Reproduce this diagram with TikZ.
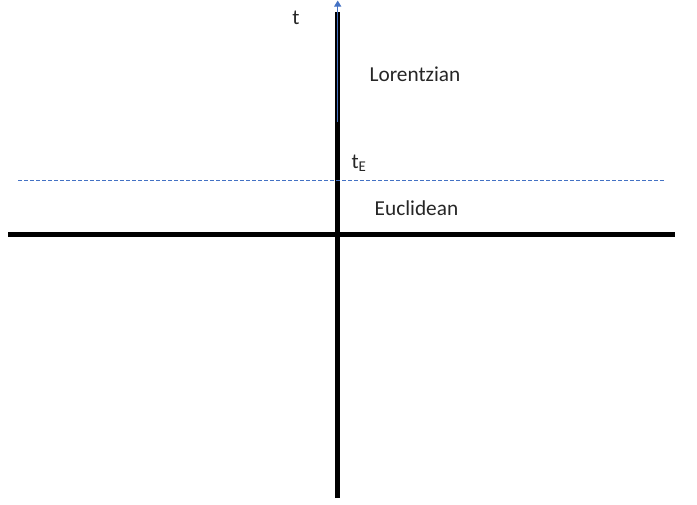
\documentclass[tikz,border=0pt]{standalone}
\usepackage{fontspec}
\setmainfont{Carlito}
\usepackage{tikz}
\usetikzlibrary{positioning,arrows.meta}
\definecolor{officeblue}{HTML}{4472C4}
\tikzset{
  axisln/.style={line width=4.5pt,black},
  timeln/.style={-{Triangle[length=6pt,width=7pt]},line width=1pt,officeblue},
  cutln/.style={line width=0.9pt,officeblue,dash pattern=on 4pt off 2pt},
  lbl/.style={font=\fontsize{21.3}{25}\selectfont,inner sep=0pt,text=black!85},
}

\begin{document}
\begin{tikzpicture}[x=1pt,y=-1pt]
  \useasboundingbox (0,0) rectangle (697,504);
  % axes
  \coordinate (xl) at (8,234.5);
  \coordinate (xr) at (675,234.5);
  \coordinate (yb) at (337.5,498);
  \coordinate (yt) at (337.5,12);
  \draw[axisln] (xl)--(xr);
  \draw[axisln] (yb)--(yt);
  % Lorentzian time direction
  \coordinate (lb) at (337.7,122);
  \coordinate (lt) at (337.7,0.5);
  \draw[timeln] (lb)--(lt);
  % t_E slice
  \coordinate (cl) at (18,180);
  \coordinate (cr) at (664,180);
  \draw[cutln] (cl)--(cr);
  \node[lbl] (tlab) at (296,18) {t};
  \node[lbl] (lor) at (415,74) {Lorentzian};
  \node[lbl] (tE) at (359,163) {t\textsubscript{E}};
  \node[lbl] (euc) at (416.5,208) {Euclidean};
\end{tikzpicture}
\end{document}
